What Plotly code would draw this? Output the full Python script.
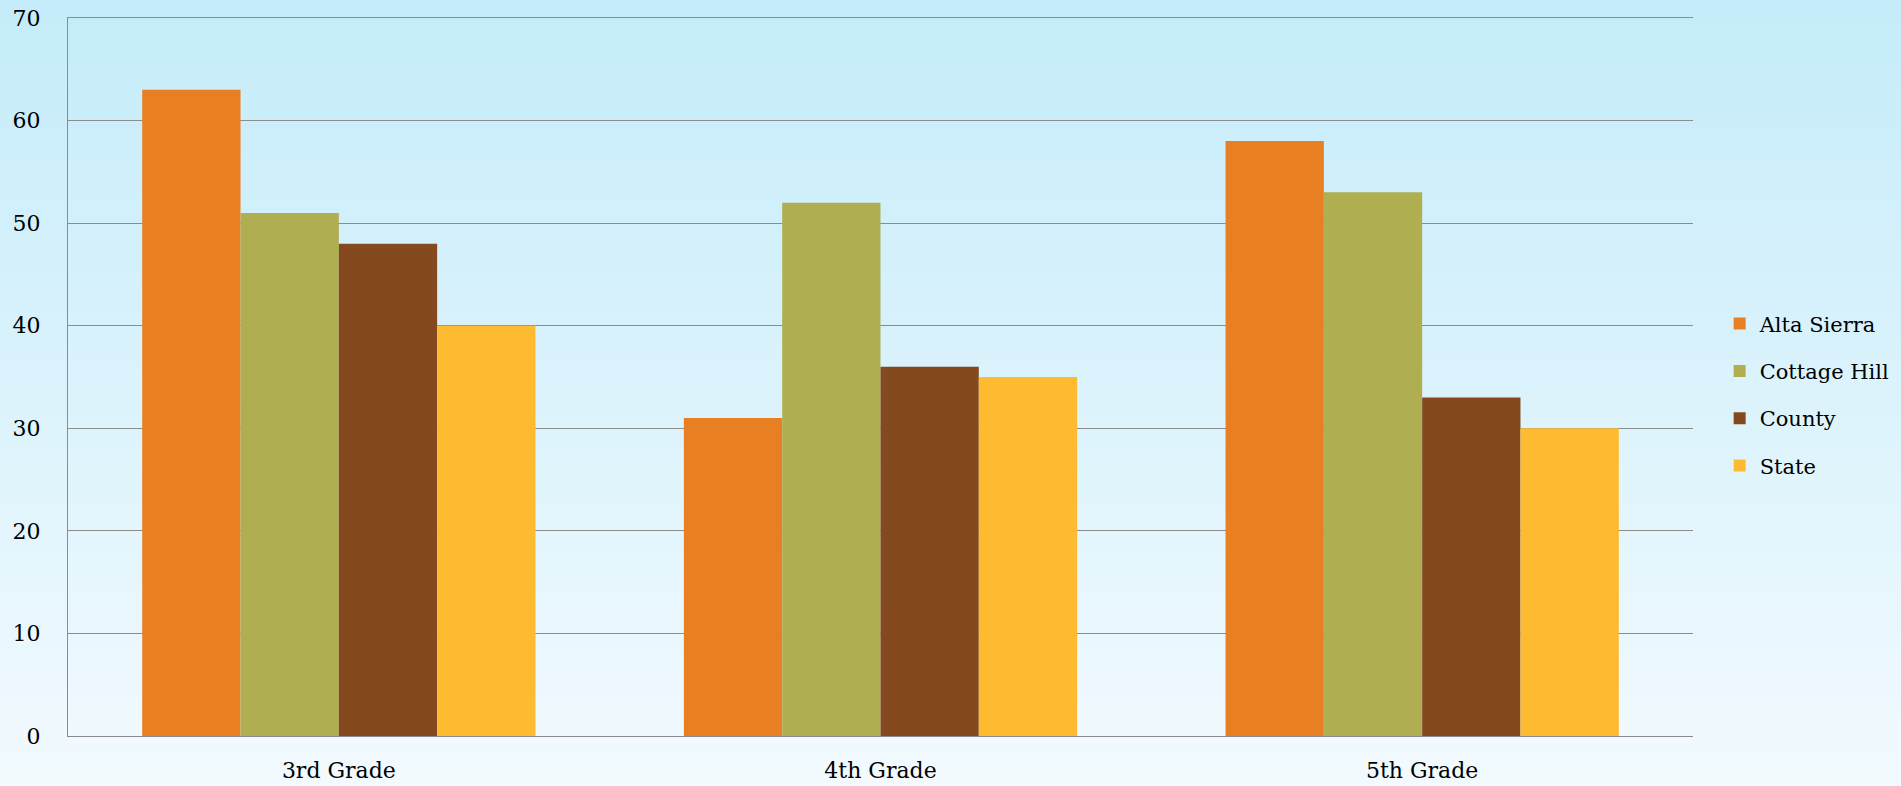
import plotly.graph_objects as go

categories = ["3rd Grade", "4th Grade", "5th Grade"]
alta_sierra = [63, 31, 58]
cottage_hill = [51, 52, 53]
county = [48, 36, 33]
state = [40, 35, 30]
series_names = ["Alta Sierra", "Cottage Hill", "County", "State"]
series_values = [alta_sierra, cottage_hill, county, state]
colors = ["#E97F23", "#AFAF52", "#84491F", "#FEBA30"]
y_ticks = [0, 10, 20, 30, 40, 50, 60, 70]

FONT = "DejaVu Serif"

fig = go.Figure()
for i, (name, vals, col) in enumerate(zip(series_names, series_values, colors)):
    fig.add_trace(go.Bar(
        x=categories, y=vals, name=name,
        marker=dict(color=col, line=dict(width=0)),
        legendgroup=name,
    ))

# vertical gradient background (top light blue -> bottom near white)
top = (197, 236, 250)
bot = (242, 250, 254)
n = 60
shapes = []
y0p = 1 + 18 / 718
ybp = -50 / 718
for k in range(n):
    t = k / (n - 1)
    c = tuple(round(top[j] + (bot[j] - top[j]) * t) for j in range(3))
    ya = y0p + (ybp - y0p) * k / n
    yb = y0p + (ybp - y0p) * (k + 1) / n
    if k == 0:
        ya += 0.1
    if k == n - 1:
        yb -= 0.1
    shapes.append(dict(type="rect", xref="paper", yref="paper",
                       x0=-0.1, x1=1.2, y0=yb - 0.002, y1=ya + 0.002,
                       fillcolor="rgb(%d,%d,%d)" % c, line=dict(width=0),
                       layer="below"))

fig.update_layout(
    width=1901, height=786,
    margin=dict(l=68, r=208, t=18, b=50, autoexpand=False),
    paper_bgcolor="#EAF7FC",
    plot_bgcolor="rgba(0,0,0,0)",
    shapes=shapes,
    barmode="group",
    bargap=0.274,
    bargroupgap=0,
    font=dict(family=FONT, size=22, color="#000000"),
    xaxis=dict(
        showgrid=False, showline=True, linecolor="#8C8C8C", linewidth=1.3,
        mirror=True, automargin=False,
        ticks="", ticklabelstandoff=14, tickfont=dict(size=22),
    ),
    yaxis=dict(
        range=[0, 70], tickvals=y_ticks, showgrid=True, gridcolor="#8C8C8C",
        gridwidth=1.3, showline=True, linecolor="#8C8C8C", linewidth=1.3,
        automargin=False,
        ticks="", ticklabelstandoff=22, tickfont=dict(size=22), zeroline=False,
    ),
    legend=dict(
        x=1.0164, xanchor="left", y=0.475, yanchor="middle",
        font=dict(size=21), bgcolor="rgba(0,0,0,0)",
        traceorder="grouped", tracegroupgap=17, itemwidth=30,
    ),
)

fig.write_html(
    "out.html",
    config={"displayModeBar": False},
    post_script="document.body.style.margin='0';document.body.style.overflow='hidden';",
)
